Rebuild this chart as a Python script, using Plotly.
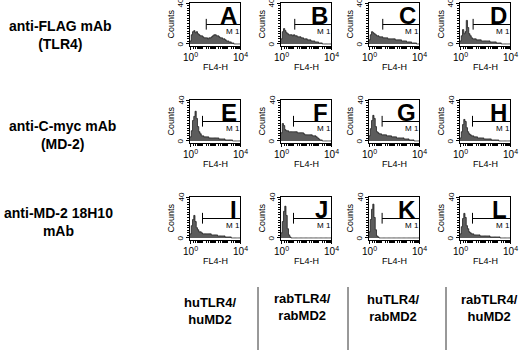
import math
import plotly.graph_objects as go

W, H = 520, 350

# ---------------- data ----------------
panel_letters = ["A", "B", "C", "D", "E", "F", "G", "H", "I", "J", "K", "L"]
row_labels = ["anti-FLAG mAb<br>(TLR4)", "anti-C-myc mAb<br>(MD-2)", "anti-MD-2 18H10<br>mAb"]
col_labels = ["huTLR4/<br>huMD2", "rabTLR4/<br>rabMD2", "huTLR4/<br>rabMD2", "rabTLR4/<br>huMD2"]
x_tick_vals = [1, 10000]
x_tick_text = ["10<sup>0</sup>", "10<sup>4</sup>"]
y_tick_vals = [0, 40]
y_tick_text = ["0", "40"]

# histogram bins: log10(FL4-H) from 0 to 4 in steps of 0.1
log_bin_edges = [round(i * 0.1, 1) for i in range(41)]

counts_A = [3,9,12,13,11,12,10,9,8,8,7,6,6,6,5,6,6,7,8,9,9,8,8,7,6,6,5,5,4,3,3,2,2,1,1,0,0,0,0,0]
counts_B = [5,12,15,13,11,10,9,9,9,8,9,8,8,7,7,7,6,6,5,5,5,4,4,4,3,3,3,2,2,2,1,1,1,0,0,0,0,0,0,0]
counts_C = [4,9,12,11,10,9,8,8,7,7,7,6,6,6,6,5,5,5,5,5,5,4,4,4,4,4,3,3,3,3,2,2,2,2,1,1,1,1,0,0]
counts_D = [3,8,14,10,12,23,16,10,8,6,5,5,5,4,4,4,4,3,3,3,3,3,3,3,2,2,2,2,2,1,1,1,1,0,0,0,0,0,0,0]
counts_E = [4,10,20,24,29,22,14,9,7,5,5,4,4,4,4,3,3,3,3,3,3,3,3,2,2,2,2,2,1,1,1,1,1,1,0,0,0,0,0,0]
counts_F = [8,17,15,11,10,10,9,9,9,9,9,9,9,8,8,8,8,8,7,6,6,6,6,6,6,5,5,5,4,3,2,1,1,0,0,0,0,0,0,0]
counts_G = [5,12,20,25,22,14,9,8,7,7,6,6,6,6,5,5,5,5,4,4,4,4,3,3,3,3,3,3,2,2,2,2,1,1,1,1,0,0,0,0]
counts_H = [3,9,16,21,19,13,9,7,6,5,5,4,4,4,3,3,3,3,3,2,2,2,2,2,2,1,1,1,1,1,1,0,0,0,0,0,0,0,0,0]
counts_I = [4,12,18,22,16,10,8,6,6,5,4,4,4,4,4,4,4,3,3,3,3,3,2,2,2,2,2,2,1,1,1,1,1,0,0,0,0,0,0,0]
counts_J = [5,16,26,31,22,9,3,1,0,0,0,0,0,0,0,0,0,0,0,0,0,0,0,0,0,0,0,0,0,0,0,0,0,0,0,0,0,0,0,0]
counts_K = [6,18,28,33,20,8,2,1,0,0,0,0,0,0,0,0,0,0,0,0,0,0,0,0,0,0,0,0,0,0,0,0,0,0,0,0,0,0,0,0]
counts_L = [4,11,19,24,20,12,9,6,5,4,4,3,3,3,3,3,2,2,2,2,2,2,2,2,1,1,1,1,1,1,1,1,0,0,0,0,0,0,0,0]

all_counts = [counts_A, counts_B, counts_C, counts_D, counts_E, counts_F,
              counts_G, counts_H, counts_I, counts_J, counts_K, counts_L]

# M1 gate start (log10 FL4-H) per panel
gate_start_log = [1.3, 1.1, 1.1, 1.05, 1.0, 1.0, 1.05, 1.0, 1.0, 1.0, 1.05, 1.0]

# ---------------- layout geometry (pixels) ----------------
col_left = [190, 281, 369, 460]
col_w = 50
row_top = [3, 100, 197]
row_bot = [46, 143, 240]

FONT = "Arial, Liberation Sans, Helvetica, sans-serif"

fig = go.Figure()
annotations = []
shapes = []

minor_x = [d * 10 ** k for k in range(4) for d in range(2, 11)]

for idx in range(12):
    r, c = divmod(idx, 4)
    n = idx + 1
    xa = "x" if n == 1 else f"x{n}"
    ya = "y" if n == 1 else f"y{n}"
    xkey = "xaxis" if n == 1 else f"xaxis{n}"
    ykey = "yaxis" if n == 1 else f"yaxis{n}"
    l = col_left[c]
    rr = l + col_w
    t = row_top[r]
    b = row_bot[r]

    vals = all_counts[idx]
    xs = [10 ** e for e in log_bin_edges]
    ys = vals + [vals[-1]]
    fig.add_trace(go.Scatter(
        x=xs, y=ys, mode="lines", line=dict(color="#111111", width=0.7, shape="hv"),
        fill="tozeroy", fillcolor="#5c5c5c", xaxis=xa, yaxis=ya,
        showlegend=False, hoverinfo="skip"))

    fig.layout[xkey] = dict(
        domain=[l / W, rr / W], anchor=ya, type="log", range=[0, 4],
        showline=True, mirror=True, linecolor="black", linewidth=1.3,
        tickmode="array", tickvals=x_tick_vals, showticklabels=False,
        ticks="outside", ticklen=3, tickwidth=1, tickcolor="black",
        minor=dict(ticks="outside", ticklen=2, tickwidth=0.8, tickcolor="black",
                   tickmode="array", tickvals=minor_x),
        showgrid=False, zeroline=False, fixedrange=True)
    fig.layout[ykey] = dict(
        domain=[1 - b / H, 1 - t / H], anchor=xa, range=[-2, 40],
        showline=True, mirror=True, linecolor="black", linewidth=1.3,
        tickmode="array", tickvals=y_tick_vals, showticklabels=False,
        ticks="outside", ticklen=3, tickwidth=1, tickcolor="black",
        minor=dict(ticks="outside", ticklen=2, tickwidth=0.8, tickcolor="black", dtick=2.5),
        showgrid=False, zeroline=False, fixedrange=True)

    # tick labels, placed in the axes' own coordinates
    for v, txt in zip(x_tick_vals, x_tick_text):
        annotations.append(dict(
            x=math.log10(v), y=-2, xref=xa, yref=ya, xanchor="center", yanchor="top",
            text=txt, showarrow=False, yshift=-3,
            font=dict(family=FONT, size=10, color="black")))
    for v, txt in zip(y_tick_vals, y_tick_text):
        annotations.append(dict(
            x=0, y=v, xref=xa, yref=ya, xanchor="right", yanchor="middle",
            text=txt, showarrow=False, xshift=-3, textangle=-90,
            font=dict(family=FONT, size=8, color="black")))

    # panel letter
    annotations.append(dict(
        x=4, y=40, xref=xa, yref=ya, xanchor="right", yanchor="top",
        text=f"<b>{panel_letters[idx]}</b>", showarrow=False, xshift=-1, yshift=3,
        font=dict(family=FONT, size=24, color="black")))
    # M1 gate (shape coordinates are data values on the log axis)
    g = 10 ** gate_start_log[idx]
    shapes.append(dict(type="line", xref=xa, yref=ya, x0=g, x1=10000, y0=19, y1=19,
                       line=dict(color="black", width=1)))
    shapes.append(dict(type="line", xref=xa, yref=ya, x0=g, x1=g, y0=14, y1=24.5,
                       line=dict(color="black", width=1)))
    annotations.append(dict(
        x=3.4, y=12, xref=xa, yref=ya, xanchor="center", yanchor="middle",
        text="M 1", showarrow=False,
        font=dict(family=FONT, size=8, color="black")))
    # axis titles
    annotations.append(dict(
        x=(l - 20) / W, y=1 - (t + b) / 2 / H, xref="paper", yref="paper",
        xanchor="center", yanchor="middle", text="Counts", textangle=-90,
        showarrow=False, font=dict(family=FONT, size=9, color="black")))
    annotations.append(dict(
        x=(l + rr) / 2 / W, y=1 - (b + 21) / H, xref="paper", yref="paper",
        xanchor="center", yanchor="middle", text="FL4-H",
        showarrow=False, font=dict(family=FONT, size=9, color="black")))

# row labels
row_label_pos = [(60, 35), (62, 135), (58, 222)]
for txt, (px, py) in zip(row_labels, row_label_pos):
    annotations.append(dict(
        x=px / W, y=1 - py / H, xref="paper", yref="paper", xanchor="center",
        yanchor="middle", text=f"<b>{txt}</b>", showarrow=False, align="center",
        font=dict(family=FONT, size=14, color="black")))

# column labels
col_label_pos = [(210, 311), (302, 307), (393, 308), (489, 308)]
for txt, (px, py) in zip(col_labels, col_label_pos):
    annotations.append(dict(
        x=px / W, y=1 - py / H, xref="paper", yref="paper", xanchor="center",
        yanchor="middle", text=f"<b>{txt}</b>", showarrow=False, align="center",
        font=dict(family=FONT, size=13, color="black")))

# separators between column labels
for sx in [258, 348, 446]:
    shapes.append(dict(type="line", xref="paper", yref="paper",
                       x0=sx / W, x1=sx / W, y0=1 - 287 / H, y1=0,
                       line=dict(color="#333333", width=1)))

fig.update_layout(
    width=W, height=H, margin=dict(l=0, r=0, t=0, b=0),
    paper_bgcolor="white", plot_bgcolor="white",
    annotations=annotations, shapes=shapes, showlegend=False)

fig.write_html("out.html", config={"displayModeBar": False},
               post_script="document.body.style.margin='0';document.body.style.overflow='hidden';")
